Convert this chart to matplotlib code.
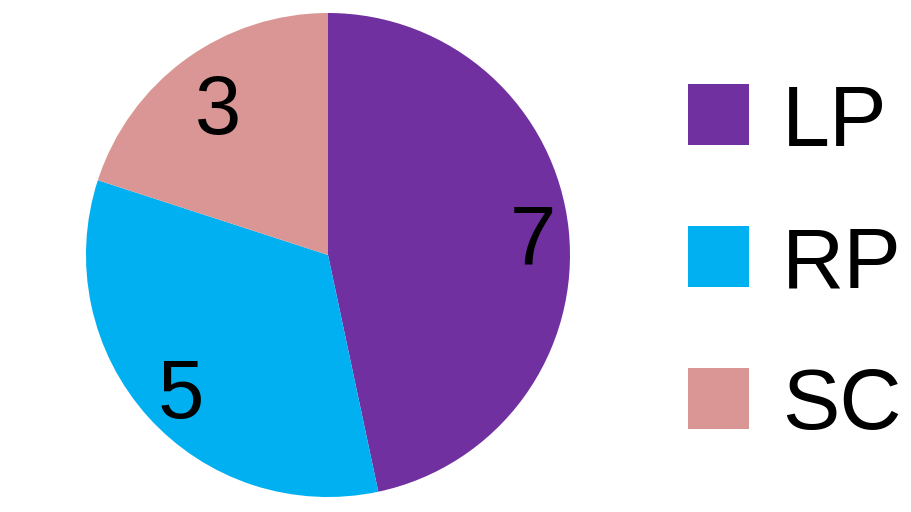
import matplotlib
matplotlib.use("Agg")
import matplotlib.pyplot as plt
from matplotlib.patches import Rectangle
from matplotlib import font_manager
import numpy as np

categories = ["LP", "RP", "SC"]
values = [7, 5, 3]
colors = ["#7030A0", "#00B0F0", "#D99694"]

plt.rcParams['font.family'] = ['Liberation Sans', 'DejaVu Sans']
names = {f.name for f in font_manager.fontManager.ttflist}
legend_family = ['Liberation Sans Narrow', 'DejaVu Sans'] if 'Liberation Sans Narrow' in names \
    else ['Liberation Sans', 'DejaVu Sans']
legend_size = 70 if 'Liberation Sans Narrow' in names else 62

W, H = 911, 512
fig = plt.figure(figsize=(W / 100, H / 100), dpi=100)
cx, cy, r = 328, 255, 242
ax = fig.add_axes([(cx - r) / W, (H - cy - r) / H, 2 * r / W, 2 * r / H])
wedges, _ = ax.pie(values, colors=colors, startangle=90, counterclock=False,
                   radius=1, wedgeprops=dict(linewidth=0))
ax.set_xlim(-1, 1)
ax.set_ylim(-1, 1)
ax.set_aspect('equal')
ax.axis('off')

label_dist = [0.85, 0.82, 0.77]
half_digit = 30 / r
for w, v, d in zip(wedges, values, label_dist):
    ang = np.deg2rad((w.theta1 + w.theta2) / 2)
    ax.text(d * np.cos(ang), d * np.sin(ang) - half_digit, str(v), ha='center', va='baseline',
            fontsize=60, color='black')

# legend
box_x, box_w = 688, 61
box_centers = [114, 256, 398]
baselines = [146, 288, 429]
for cat, col, yc, yb in zip(categories, colors, box_centers, baselines):
    fig.add_artist(Rectangle((box_x / W, (H - yc - box_w / 2) / H), box_w / W, box_w / H,
                             transform=fig.transFigure, facecolor=col, edgecolor='none'))
    fig.text(782 / W, (H - yb) / H, cat, ha='left', va='baseline', fontsize=legend_size,
             color='black', family=legend_family)

fig.savefig("out.png", dpi=100)
